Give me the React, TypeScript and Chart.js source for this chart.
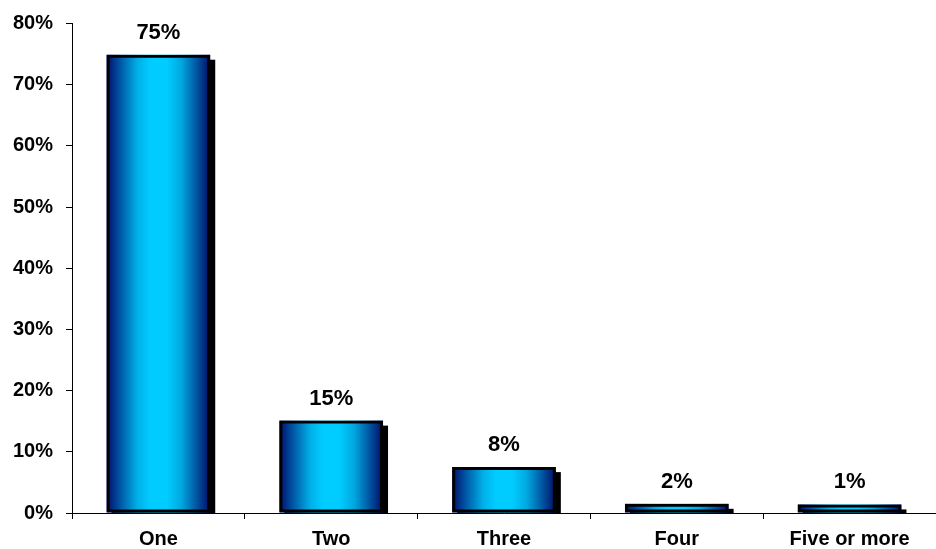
import React, { useEffect, useRef } from "react";
import { Chart, registerables } from "chart.js";

Chart.register(...registerables);

const categories = ["One", "Two", "Three", "Four", "Five or more"];
const values = [74.9, 15.1, 7.5, 1.5, 1.4];
const valueLabels = ["75%", "15%", "8%", "2%", "1%"];
const yTicks = [0, 10, 20, 30, 40, 50, 60, 70, 80];

const FONT = "'Liberation Sans', Arial, sans-serif";

const barDecor = {
  id: "barDecor",
  beforeDatasetsDraw(chart: any) {
    const ctx = chart.ctx;
    const meta = chart.getDatasetMeta(0);
    meta.data.forEach((el: any) => {
      const { x, y, base, width } = el.getProps(["x", "y", "base", "width"], true);
      const left = x - width / 2;
      const top = Math.min(y, base);
      const bottom = Math.max(y, base);
      ctx.save();
      ctx.fillStyle = "#000";
      const sh = Math.min(5, bottom - top);
      ctx.fillRect(left + 5, top + sh, width, bottom - top - sh + 1);
      const g = ctx.createLinearGradient(left, 0, left + width, 0);
      g.addColorStop(0, "#000d6b");
      g.addColorStop(0.12, "#0050a0");
      g.addColorStop(0.3, "#00b0e8");
      g.addColorStop(0.42, "#00ccff");
      g.addColorStop(0.58, "#00ccff");
      g.addColorStop(0.72, "#00a8e0");
      g.addColorStop(0.88, "#004f9c");
      g.addColorStop(1, "#000c66");
      ctx.fillStyle = g;
      ctx.fillRect(left, top, width, bottom - top);
      ctx.restore();
    });
  },
  afterDatasetsDraw(chart: any) {
    const ctx = chart.ctx;
    const meta = chart.getDatasetMeta(0);
    ctx.save();
    ctx.font = `bold 22px ${FONT}`;
    ctx.fillStyle = "#000";
    ctx.textAlign = "center";
    ctx.textBaseline = "alphabetic";
    meta.data.forEach((el: any, i: number) => {
      const { x, y } = el.getProps(["x", "y"], true);
      ctx.fillText(valueLabels[i], x, y - 16);
    });
    ctx.restore();
  },
};

export default function App() {
  const ref = useRef<HTMLCanvasElement>(null);
  useEffect(() => {
    document.body.style.margin = "0";
    const chart = new Chart(ref.current!, {
      type: "bar",
      data: {
        labels: categories,
        datasets: [
          {
            data: values,
            backgroundColor: "rgba(0,0,0,0)",
            borderColor: "#000",
            borderWidth: 3,
            borderSkipped: false,
            categoryPercentage: 1,
            barPercentage: 0.6,
          },
        ],
      },
      options: {
        animation: false,
        responsive: false,
        layout: { padding: { top: 19, left: 0, right: 0, bottom: 0 } },
        plugins: { legend: { display: false }, tooltip: { enabled: false } },
        scales: {
          x: {
            offset: true,
            grid: {
              offset: true,
              drawOnChartArea: false,
              drawTicks: true,
              tickLength: 6,
              color: "#000",
            },
            border: { display: true, color: "#000", width: 1 },
            ticks: {
              color: "#000",
              font: { family: FONT, size: 20, weight: "bold" },
              padding: 8,
              maxRotation: 0,
            },
            afterFit: (s: any) => {
              s.height = 36;
            },
          },
          y: {
            min: 0,
            max: 80,
            afterBuildTicks: (s: any) => {
              s.ticks = yTicks.map((v) => ({ value: v }));
            },
            grid: {
              drawOnChartArea: false,
              drawTicks: true,
              tickLength: 6,
              color: "#000",
            },
            border: { display: true, color: "#000", width: 1 },
            ticks: {
              color: "#000",
              font: { family: FONT, size: 20, weight: "bold", lineHeight: 1.05 },
              padding: 13,
              callback: (v: any) => `${v}%`,
            },
            afterFit: (s: any) => {
              s.width = 72;
            },
          },
        },
      },
      plugins: [barDecor],
    });
    return () => chart.destroy();
  }, []);
  return (
    <div style={{ width: 936, height: 549, background: "#fff" }}>
      <canvas ref={ref} width={936} height={549} />
    </div>
  );
}
